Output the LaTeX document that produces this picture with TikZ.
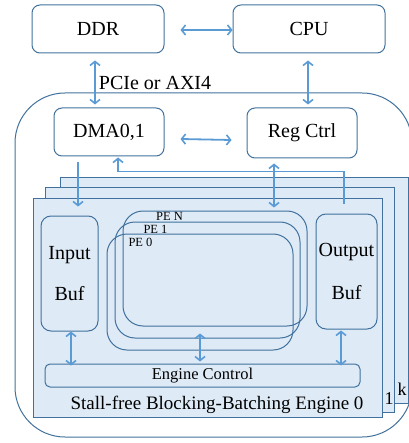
\documentclass[tikz,border=0pt]{standalone}
\usepackage{fontspec}
\setmainfont{Liberation Serif}
\usetikzlibrary{arrows.meta}
\definecolor{edgeblue}{RGB}{65,113,156}
\definecolor{linkblue}{RGB}{91,155,213}
\definecolor{layerfill}{RGB}{222,235,247}
\tikzset{box/.style = {draw=edgeblue, line width=1pt, rounded corners=8pt,
                       inner sep=0pt, font=\fontsize{20}{24}\selectfont}}
\tikzset{buf/.style = {box, rounded corners=10pt, align=center}}
\tikzset{pe/.style = {draw=edgeblue, line width=1pt, rounded corners=20pt, inner sep=0pt}}
\tikzset{pelabel/.style = {inner sep=0pt, font=\fontsize{12.5}{14}\selectfont}}
\tikzset{layer/.style = {draw=edgeblue, line width=1pt, fill=layerfill}}
\tikzset{link/.style = {draw=linkblue, line width=1.8pt,
                        arrows={-Straight Barb[length=4pt,width=10pt,line width=1.6pt]}}}
\tikzset{both/.style = {link, arrows={Straight Barb[length=4pt,width=10pt,line width=1.6pt]-Straight Barb[length=4pt,width=10pt,line width=1.6pt]}}}

\begin{document}
\begin{tikzpicture}[x=1pt, y=-1pt]
  \useasboundingbox (0,0) rectangle (408,443);

  % accelerator card outline
  \draw[draw=edgeblue, line width=1pt, rounded corners=50pt] (15,93) rectangle (412,437);

  % host side
  \node[box, minimum width=132pt, minimum height=48pt] (ddr) at (98,29) {DDR};
  \node[box, minimum width=152pt, minimum height=48pt] (cpu) at (309,29) {CPU};
  \node[box, minimum width=110pt, minimum height=48pt] (dma) at (109,132) {DMA0,1};
  \node[box, minimum width=110pt, minimum height=50pt] (reg) at (302,133) {Reg Ctrl};

  \draw[both] ([xshift=16pt,yshift=-1pt]ddr.east) -- ([yshift=-1pt]cpu.west);
  \draw[both] ([xshift=-3pt,yshift=-7pt]ddr.south) -- ([xshift=-3pt,yshift=3pt]ddr.south |- dma.north)
    node[pos=0.5, anchor=west, inner sep=0pt, xshift=3pt, font=\fontsize{20}{24}\selectfont] (bus) {PCIe or AXI4};
  \draw[both] ([xshift=-1pt,yshift=-7pt]cpu.south) -- ([xshift=-1pt,yshift=3pt]cpu.south |- reg.north);
  \draw[both] ([xshift=16pt,yshift=-7pt]dma.east) -- ([xshift=-15pt,yshift=-7pt]reg.west);

  % engine copies k, 1, 0
  \draw[layer] (60,178) rectangle (408,403);
  \draw[layer] (45,188) rectangle (394,412);
  \draw[layer] (33,199) rectangle (382,417);
  \node[inner sep=0pt, font=\fontsize{18}{20}\selectfont] (lk) at (402,389) {k};
  \node[inner sep=0pt, font=\fontsize{18}{20}\selectfont] (l1) at (389,399) {1};

  % buffers
  \node[buf, minimum width=57pt, minimum height=115pt] (inbuf) at (69.5,273.5) {Input\\[17pt]Buf};
  \node[buf, minimum width=61pt, minimum height=115pt] (outbuf) at (346.5,271.5) {Output\\[19pt]Buf};

  % PE array
  \node[pe, minimum width=184pt, minimum height=115pt] (pen) at (215,268.5) {};
  \node[pe, minimum width=185pt, minimum height=116pt] (pe1) at (207.5,280) {};
  \node[pe, minimum width=186pt, minimum height=116pt] (pe0) at (200,292) {};
  \node[pelabel] (lpen) at ([shift={(47,6)}]pen.north west) {PE N};
  \node[pelabel] (lpe1) at ([shift={(41,8)}]pe1.north west) {PE 1};
  \node[pelabel] (lpe0) at ([shift={(34,9)}]pe0.north west) {PE 0};

  \node[box, rounded corners=5pt, minimum width=315pt, minimum height=23pt,
        font=\fontsize{16.5}{18}\selectfont] (ctrl) at (202.5,375.5) {Engine Control};
  \node[inner sep=0pt, font=\fontsize{19}{22}\selectfont] (title) at (217,405)
    {Stall-free Blocking-Batching Engine 0};

  % data and control paths
  \draw[link] ([xshift=-31pt,yshift=-6pt]dma.south) -- ([xshift=8.5pt,yshift=9pt]inbuf.north);
  \draw[both] ([xshift=-28pt,yshift=-5pt]reg.south) -- ([xshift=-28pt,yshift=-49pt]reg.south);
  \coordinate (back) at ([xshift=-2.5pt,yshift=9pt]outbuf.north);
  \draw[link] (back) |- ([xshift=9pt,yshift=-15pt]dma.south) -- ([xshift=9pt,yshift=-1pt]dma.south);

  \draw[both] ([xshift=1.5pt]inbuf.south) -- ([xshift=1.5pt,yshift=-2pt]inbuf.south |- ctrl.north);
  \draw[both] ([yshift=17pt]pe0.south) -- ([yshift=2pt]pe0.south |- ctrl.north);
  \draw[both] ([xshift=-5.5pt,yshift=-1pt]outbuf.south) -- ([xshift=-5.5pt,yshift=-2pt]outbuf.south |- ctrl.north);
\end{tikzpicture}
\end{document}
